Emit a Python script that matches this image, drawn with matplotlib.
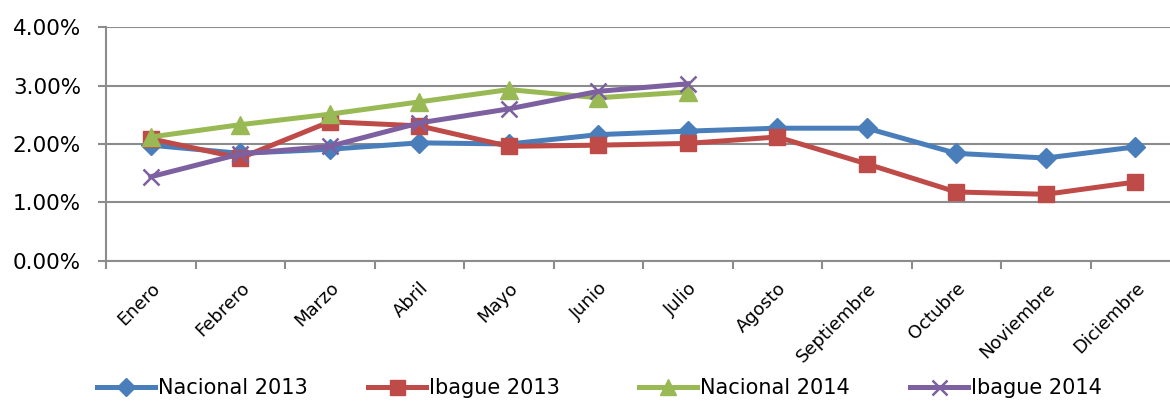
import numpy as np
import matplotlib.pyplot as plt
from matplotlib.ticker import FuncFormatter, MultipleLocator, FixedLocator

meses = ['Enero', 'Febrero', 'Marzo', 'Abril', 'Mayo', 'Junio', 'Julio',
         'Agosto', 'Septiembre', 'Octubre', 'Noviembre', 'Diciembre']
nacional_2013 = [1.98, 1.84, 1.91, 2.02, 2.00, 2.16, 2.22, 2.27, 2.27, 1.84, 1.76, 1.95]
ibague_2013 = [2.09, 1.76, 2.38, 2.31, 1.96, 1.98, 2.01, 2.12, 1.66, 1.18, 1.14, 1.35]
nacional_2014 = [2.12, 2.33, 2.51, 2.72, 2.93, 2.79, 2.89]
ibague_2014 = [1.44, 1.83, 1.96, 2.36, 2.60, 2.90, 3.03]

plt.rcParams['font.family'] = ['DejaVu Sans']

fig = plt.figure(figsize=(11.7, 4.05), dpi=100)
ax = fig.add_axes([0.0906, 0.3556, 0.918, 0.5777])

x = np.arange(len(meses))
ax.plot(x, nacional_2013, color='#4A7EBB', lw=3.6, marker='D', ms=10, label='Nacional 2013', zorder=3)
ax.plot(x, ibague_2013, color='#BE4B48', lw=3.6, marker='s', ms=12, label='Ibague 2013', zorder=4)
ax.plot(x[:7], nacional_2014, color='#98B954', lw=3.6, marker='^', ms=13, label='Nacional 2014', zorder=5)
ax.plot(x[:7], ibague_2014, color='#7D60A0', lw=3.6, marker='x', ms=12, mew=1.8, label='Ibague 2014', zorder=6)

ax.set_xlim(-0.5, 11.5)
ax.set_ylim(0, 4)
ax.yaxis.set_major_locator(MultipleLocator(1))
ax.yaxis.set_major_formatter(FuncFormatter(lambda v, p: '%.2f%%' % v))
ax.grid(axis='y', color='#8C8C8C', lw=1.5)
ax.set_axisbelow(True)

ax.xaxis.set_major_locator(FixedLocator(x))
ax.set_xticklabels(meses, rotation=45, ha='right', rotation_mode='anchor', fontsize=13)
ax.xaxis.set_minor_locator(FixedLocator(np.arange(-0.5, 12, 1)))
ax.tick_params(axis='x', which='major', length=0, pad=13)
ax.tick_params(axis='x', which='minor', length=6, width=1.5, color='#8C8C8C')
ax.tick_params(axis='y', length=6, width=1.5, color='#8C8C8C', labelsize=15.5, pad=12)

for s in ['top', 'right']:
    ax.spines[s].set_visible(False)
for s in ['left', 'bottom']:
    ax.spines[s].set_color('#8C8C8C')
    ax.spines[s].set_linewidth(1.5)

# legend entries in equal-width columns, like the Excel original
handles, labels = ax.get_legend_handles_labels()
for i in range(len(handles)):
    fig.legend([handles[i]], [labels[i]], loc='center left',
               bbox_to_anchor=((97 + i * 271) / 1170, 1 - 388 / 405),
               frameon=False, fontsize=15, handlelength=2.8, handletextpad=0.15,
               borderpad=0, borderaxespad=0, markerscale=0.9)

fig.savefig('out.png', dpi=100)
